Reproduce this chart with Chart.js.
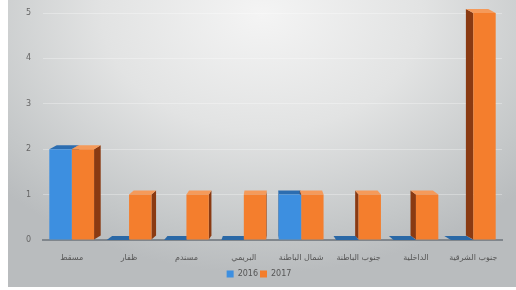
<!DOCTYPE html>
<html><head><meta charset="utf-8">
<script src="https://cdn.jsdelivr.net/npm/chart.js@4.4.0/dist/chart.umd.min.js"></script>
<style>
html,body{margin:0;padding:0;background:#fff;}
#wrap{position:absolute;left:8px;top:0;width:508px;height:287px;
background:radial-gradient(ellipse 70% 90% at 50% 5%, #f4f4f4 0%, #e2e3e3 45%, #c4c7c8 85%, #b9bcbe 100%);}
#c{position:absolute;left:0;top:0;}
</style></head><body>
<div id="wrap"></div>
<canvas id="c" width="516" height="290"></canvas>
<script>
const categories = ["مسقط","ظفار","مسندم","البريمي","شمال الباطنة","جنوب الباطنة","الداخلية","جنوب الشرقية"];
const values2016 = [2,0,0,0,1,0,0,0];
const values2017 = [2,1,1,1,1,1,1,5];
const yTicks = [0,1,2,3,4,5];

const depth = {
  id:'depth',
  beforeDatasetsDraw(chart){
    const ctx = chart.ctx;
    const vx = (chart.chartArea.left+chart.chartArea.right)/2;
    const sides = [["#2a68a6","#2c6db0"],["#8a3a12","#f59a5a"]];
    chart.data.datasets.forEach((ds,di)=>{
      const meta = chart.getDatasetMeta(di);
      meta.data.forEach(el=>{
        const l = el.x - el.width/2, r = el.x + el.width/2;
        const top = el.y, base = el.base;
        const dy = 4;
        const dx = (vx - el.x)*0.035;
        ctx.save();
        const ex = dx>0 ? r : l;
        ctx.fillStyle = sides[di][0];
        ctx.beginPath();
        ctx.moveTo(ex, top); ctx.lineTo(ex+dx, top-dy);
        ctx.lineTo(ex+dx, base-dy); ctx.lineTo(ex, base); ctx.closePath(); ctx.fill();
        ctx.fillStyle = (top===base) ? sides[di][0] : sides[di][1];
        ctx.beginPath();
        ctx.moveTo(l, top); ctx.lineTo(r, top);
        ctx.lineTo(r+dx, top-dy); ctx.lineTo(l+dx, top-dy); ctx.closePath(); ctx.fill();
        ctx.restore();
      });
    });
  }
};

new Chart(document.getElementById('c'), {
  type:'bar',
  data:{
    labels:categories,
    datasets:[
      {label:'2016', data:values2016, backgroundColor:'#3d8fe0', borderWidth:0},
      {label:'2017', data:values2017, backgroundColor:'#f47e2d', borderWidth:0}
    ]
  },
  plugins:[depth],
  options:{
    responsive:false, animation:false,
    layout:{padding:{top:0,right:14,left:16,bottom:2}},
    datasets:{bar:{categoryPercentage:0.78, barPercentage:1}},
    plugins:{
      legend:{position:'bottom', labels:{boxWidth:7, boxHeight:7, padding:2, color:'#555', font:{family:'DejaVu Sans', size:8}}},
      tooltip:{enabled:false}
    },
    scales:{
      x:{grid:{display:false, drawTicks:false}, border:{display:true, color:'#80868c', width:2},
         afterFit(s){s.height = 28;},
         ticks:{color:'#555', padding:13, maxRotation:0, autoSkip:false, font:{family:'DejaVu Sans', size:8}}},
      y:{min:0, max:5, afterBuildTicks(s){s.ticks = yTicks.map(v=>({value:v}));},
         grid:{color:'rgba(255,255,255,0.3)', drawTicks:false}, border:{display:false},
         afterFit(s){s.width = 27; s.paddingTop = 13;},
         ticks:{color:'#666', padding:12, font:{family:'DejaVu Sans', size:8}}}
    }
  }
});
</script>
</body></html>
